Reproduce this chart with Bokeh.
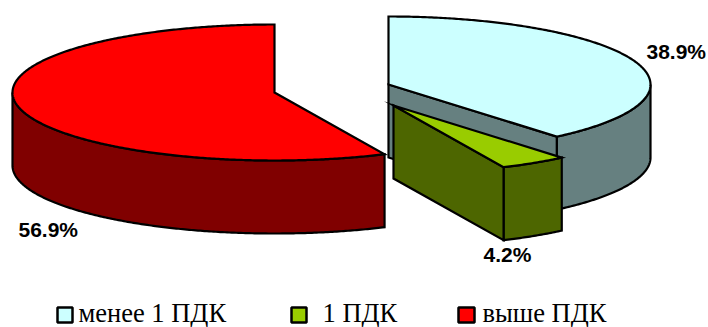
import numpy as np
from bokeh.core.properties import value
from bokeh.embed import file_html
from bokeh.models import ColumnDataSource, Range1d
from bokeh.plotting import figure
from bokeh.resources import INLINE

categories = ["менее 1 ПДК", "1 ПДК", "выше ПДК"]
shares = [38.9, 4.2, 56.9]
share_labels = ["38.9%", "4.2%", "56.9%"]

top_colors = ["#CCFFFF", "#99CC00", "#FF0000"]
side_colors = ["#668080", "#4D6600", "#800000"]
centers = [(388, 84), (393, 105), (274, 92)]
RX, RY, DEPTH = 262, 68, 73
LINE = "#000000"
W, H = 708, 327

p = figure(width=W, height=H, output_backend="svg", toolbar_location=None,
           x_range=Range1d(0, W), y_range=Range1d(H, 0),
           min_border=0, outline_line_color=None, background_fill_color="white")
p.axis.visible = False
p.grid.visible = False


def rim(center, a0, a1, drop=0.0):
    """Ellipse arc; angles in degrees clockwise from twelve o'clock."""
    t = np.radians(np.linspace(a0, a1, max(int(abs(a1 - a0)) * 2, 2) + 1))
    return center[0] + RX * np.sin(t), center[1] - RY * np.cos(t) + drop


def draw(xs, ys, color):
    p.patch(list(xs), list(ys), fill_color=color, line_color=LINE,
            line_width=2.2, line_join="miter")


def wall(center, a0, a1, color):
    x, y = rim(center, a0, a1)
    draw(np.r_[x, x[::-1]], np.r_[y, y[::-1] + DEPTH], color)


def cut_face(center, a, color):
    x, y = rim(center, a, a)
    ex, ey = x[0], y[0]
    draw([center[0], ex, ex, center[0]],
         [center[1], ey, ey + DEPTH, center[1] + DEPTH], color)


def top(center, a0, a1, color):
    x, y = rim(center, a0, a1)
    draw(np.r_[center[0], x], np.r_[center[1], y], color)


# Slice boundaries, clockwise from twelve o'clock
edges = np.r_[0, np.cumsum(shares)] * 3.6

# Pale slice: outer wall, cut face, then lid
a0, a1 = edges[0], edges[1]
wall(centers[0], 90, a1, side_colors[0])
cut_face(centers[0], a1, side_colors[0])
top(centers[0], a0, a1, top_colors[0])

# Pulled-out narrow slice
a0, a1 = edges[1], edges[2]
wall(centers[1], a0, a1, side_colors[1])
cut_face(centers[1], a1, side_colors[1])
top(centers[1], a0, a1, top_colors[1])

# Large slice: only the part of its wall facing the viewer shows
a0, a1 = edges[2], edges[3]
wall(centers[2], a0, 270, side_colors[2])
top(centers[2], a0, a1, top_colors[2])

# Percentage labels
label_src = ColumnDataSource(dict(x=[646, 483, 18], y=[51, 254, 229], text=share_labels))
p.text("x", "y", text="text", source=label_src, text_font=value("Liberation Sans"),
       text_font_style="bold", text_font_size="21px", text_color="#000000",
       text_baseline="alphabetic", text_align="left")

# Legend
swatch_src = ColumnDataSource(dict(left=[57, 291, 458], right=[72, 306, 474],
                                   top=[307, 307, 307], bottom=[322, 322, 322],
                                   color=top_colors))
p.quad(left="left", right="right", top="top", bottom="bottom", fill_color="color",
       line_color=LINE, line_width=2.5, source=swatch_src)
legend_src = ColumnDataSource(dict(x=[78, 322, 482], y=[312, 312, 312], text=categories))
p.text("x", "y", text="text", source=legend_src, text_font=value("Liberation Serif"),
       text_font_size="26.5px", text_color="#000000",
       text_baseline="alphabetic", text_align="left")

open("out.html", "w").write(file_html(p, INLINE))
